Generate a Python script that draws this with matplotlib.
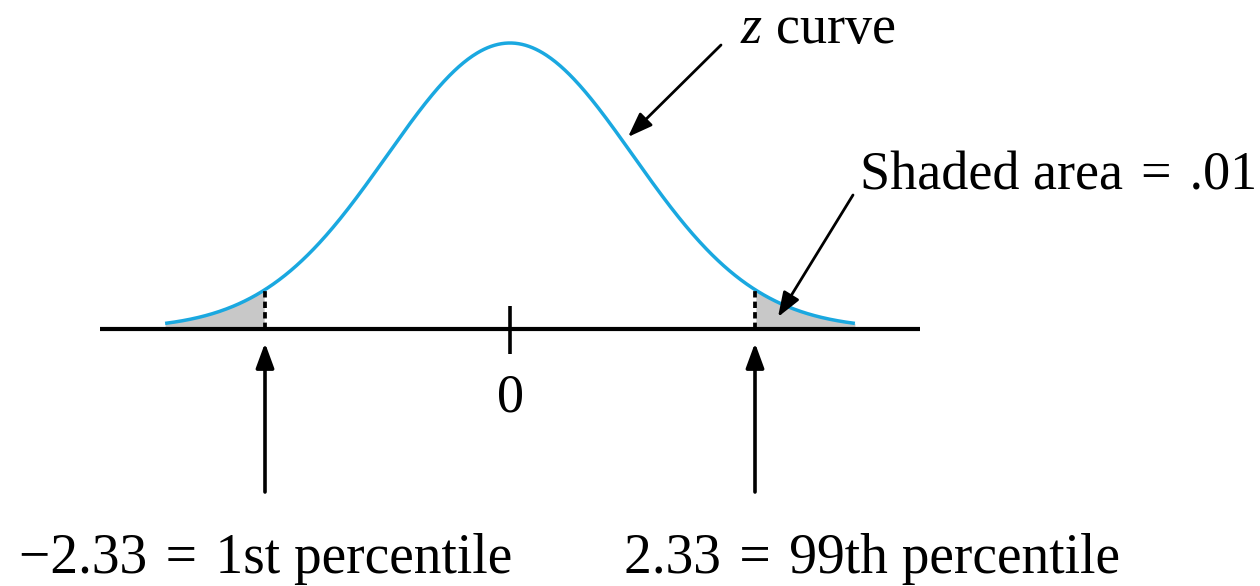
import numpy as np
import matplotlib
matplotlib.use("Agg")
import matplotlib.pyplot as plt

plt.rcParams['font.family'] = ['Liberation Serif', 'DejaVu Serif']
plt.rcParams['mathtext.fontset'] = 'custom'
plt.rcParams['mathtext.it'] = 'Liberation Serif:italic'
plt.rcParams['mathtext.rm'] = 'Liberation Serif'

# ---- data ----
z_center = 0.0
z_lower = -2.33          # 1st percentile
z_upper = 2.33           # 99th percentile
curve_range = (-3.28, 3.28)   # extent of the drawn curve
axis_range = (-3.9, 3.90)     # extent of the horizontal axis line
curve_sd = 1.17               # visual spread of the drawn z curve
tick_labels = ["0"]
label_lower = "\u22122.33\u2004=\u20041st percentile"
label_upper = "2.33\u2004=\u200499th percentile"
label_curve = r"$\mathit{z}$ curve"
label_area = "Shaded area\u2004=\u2004.01"


def density(z):
    return np.exp(-0.5 * (z / curve_sd) ** 2) / (curve_sd * np.sqrt(2 * np.pi))


peak = density(0.0)

W, H = 1260, 586
fig = plt.figure(figsize=(W / 100, H / 100), dpi=100)
ax = fig.add_axes([0, 0, 1, 1])
ax.set_axis_off()

# pixel layout -> data limits
x0_px, unit_px = 510, 490 / 4.66
base_px, peak_px = 329, 43
yunit = peak / (base_px - peak_px)
ax.set_xlim(-x0_px / unit_px, (W - x0_px) / unit_px)
ax.set_ylim(-(H - base_px) * yunit, base_px * yunit)


def px(x, y):
    return ((x - x0_px) / unit_px, (base_px - y) * yunit)


zc = np.linspace(curve_range[0], curve_range[1], 600)
yc = density(zc)

# shaded tails
left = zc <= z_lower
right = zc >= z_upper
ax.fill_between(zc[left], 0, yc[left], color='#C8C8C8', lw=0, zorder=1)
ax.fill_between(zc[right], 0, yc[right], color='#C8C8C8', lw=0, zorder=1)

# curve
ax.plot(zc, yc, color='#1AA8E0', lw=2.5, solid_capstyle='butt', zorder=3)

# axis line
ax.plot(axis_range, [0, 0], color='black', lw=3.0, solid_capstyle='butt', zorder=4)

# center tick
t0, t1 = px(510, 306)[1], px(510, 354)[1]
ax.plot([z_center, z_center], [t1, t0], color='black', lw=2.6,
        solid_capstyle='butt', zorder=4)
ax.text(z_center, px(0, 412)[1], tick_labels[0], ha='center', va='baseline', fontsize=39)

# dashed lines at percentiles
for zz in (z_lower, z_upper):
    ax.plot([zz, zz], [0, density(zz)], color='black', lw=2.7,
            linestyle=(0, (1.7, 1.1)), zorder=4)

# vertical arrows
for zz in (z_lower, z_upper):
    ax.annotate('', xy=(zz, px(0, 343)[1]), xytext=(zz, px(0, 492)[1]),
                arrowprops=dict(arrowstyle='-|>,head_length=15,head_width=5.5',
                                mutation_scale=1, lw=2.6, color='black',
                                shrinkA=0, shrinkB=0), zorder=5)

# diagonal pointer arrows
ax.annotate('', xy=px(628, 137), xytext=px(721, 45),
            arrowprops=dict(arrowstyle='-|>,head_length=15,head_width=5.5',
                            mutation_scale=1, lw=2.0, color='black',
                            shrinkA=0, shrinkB=0), zorder=5)
ax.annotate('', xy=px(778, 317), xytext=px(853, 195),
            arrowprops=dict(arrowstyle='-|>,head_length=15,head_width=5.5',
                            mutation_scale=1, lw=2.0, color='black',
                            shrinkA=0, shrinkB=0), zorder=5)

# texts
ax.text(*px(740, 43), label_curve, ha='left', va='baseline', fontsize=39)
ax.text(*px(860, 189), label_area, ha='left', va='baseline', fontsize=39)
ax.text(*px(19, 573), label_lower, ha='left', va='baseline', fontsize=40)
ax.text(*px(624, 573), label_upper, ha='left', va='baseline', fontsize=40)

fig.savefig('out.png', dpi=100, facecolor='white')
